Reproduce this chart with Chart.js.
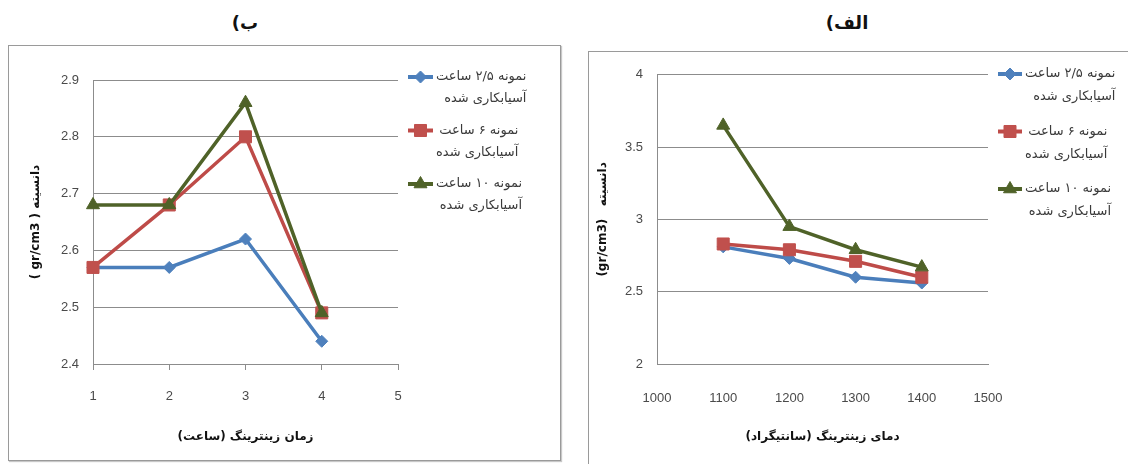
<!DOCTYPE html>
<html>
<head>
<meta charset="utf-8">
<script src="https://cdn.jsdelivr.net/npm/chart.js@4.4.1/dist/chart.umd.min.js"></script>
<style>
  html, body { margin: 0; padding: 0; background: #fff; width: 1128px; height: 464px; overflow: hidden; }
  .panel { position: absolute; border: 1px solid #9a9a9a; box-shadow: 1px 1px 1px #c8c8c8; background: #fff; }
  canvas { position: absolute; direction: rtl; }
  .cap { position: absolute; font: bold 18px "DejaVu Sans", sans-serif; color: #111; direction: rtl;
         transform: translate(-50%, -50%); white-space: nowrap; }
</style>
</head>
<body>
<div class="panel" style="left:8px;top:45px;width:551px;height:414px"></div>
<div class="panel" style="left:588px;top:51px;width:600px;height:500px"></div>
<div class="cap" dir="rtl" style="left:245px;top:22px">ب)</div>
<div class="cap" dir="rtl" style="left:847px;top:22px">الف)</div>
<canvas id="timeChart" width="549" height="412" style="left:10px;top:47px"></canvas>
<canvas id="tempChart" width="538" height="411" style="left:590px;top:53px"></canvas>

<script>
// Series names (first legend line) and the shared second line
const seriesNames = ['نمونه ۲/۵ ساعت', 'نمونه ۶ ساعت', 'نمونه ۱۰ ساعت'];
const seriesNote = 'آسیابکاری شده';

// (ب) density vs. sintering time
const timeHours = [1, 2, 3, 4];
const timeDensity25 = [2.57, 2.57, 2.62, 2.44];
const timeDensity6  = [2.57, 2.68, 2.80, 2.49];
const timeDensity10 = [2.68, 2.68, 2.86, 2.49];
const timeXTicks = [1, 2, 3, 4, 5];
const timeYTicks = [2.4, 2.5, 2.6, 2.7, 2.8, 2.9];
const timeXTitle = 'زمان زینترینگ (ساعت)';
const timeYTitle = 'دانسیته ( gr/cm3 )';

// (الف) density vs. sintering temperature
const tempCelsius = [1100, 1200, 1300, 1400];
const tempDensity25 = [2.81, 2.73, 2.60, 2.56];
const tempDensity6  = [2.83, 2.79, 2.71, 2.60];
const tempDensity10 = [3.65, 2.95, 2.79, 2.67];
const tempXTicks = [1000, 1100, 1200, 1300, 1400, 1500];
const tempYTicks = [2, 2.5, 3, 3.5, 4];
const tempXTitle = 'دمای زینترینگ (سانتیگراد)';
const tempYTitle = 'دانسیته   (gr/cm3)';

const seriesStyle = [
  { line: '#4a7ebb', fill: '#4f81bd', shape: 'rectRot',  radius: 6,   order: 2 },
  { line: '#be4b48', fill: '#c0504d', shape: 'rect',     radius: 8.5, order: 1 },
  { line: '#4f6228', fill: '#4f6228', shape: 'triangle', radius: 7.5, order: 0 }
];

const gridColor = '#8c8c8c';
const tickFont = { family: '"Liberation Sans", Arial, sans-serif', size: 13 };
const titleFont = { family: '"DejaVu Sans", sans-serif', size: 12, weight: 'bold' };

// Legend drawn beside the plot: line sample with marker, two right-aligned text lines
const sideLegend = {
  id: 'sideLegend',
  afterDraw(chart, args, opts) {
    const ctx = chart.ctx;
    ctx.save();
    ctx.font = opts.font;
    ctx.textBaseline = 'middle';
    ctx.direction = 'rtl';
    ctx.textAlign = 'right';
    chart.data.datasets.forEach((ds, i) => {
      const y = opts.top + i * opts.spacing;
      const lines = [ds.label, seriesNote];
      const w = Math.max(...lines.map(t => ctx.measureText(t).width));
      ctx.strokeStyle = ds.borderColor;
      ctx.lineWidth = 4;
      ctx.beginPath();
      ctx.moveTo(opts.left, y);
      ctx.lineTo(opts.left + opts.sample, y);
      ctx.stroke();
      ctx.fillStyle = ds.pointBackgroundColor;
      ctx.strokeStyle = ds.pointBorderColor;
      ctx.lineWidth = 1;
      Chart.helpers.drawPoint(ctx, { pointStyle: ds.pointStyle, radius: ds.pointRadius, borderWidth: 1, rotation: 0 },
        opts.left + opts.sample / 2, y);
      ctx.fillStyle = opts.color;
      const rx = opts.left + opts.sample + opts.gap + w;
      lines.forEach((t, k) => ctx.fillText(t, rx, y + k * opts.lineGap));
    });
    ctx.restore();
  }
};

function makeDatasets(xs, seriesValues) {
  return seriesValues.map((vals, i) => {
    const s = seriesStyle[i];
    return {
      label: seriesNames[i],
      data: xs.map((x, j) => ({ x: x, y: vals[j] })),
      borderColor: s.line,
      borderWidth: 3.5,
      pointStyle: s.shape,
      pointRadius: s.radius,
      pointHoverRadius: s.radius,
      pointBackgroundColor: s.fill,
      pointBorderColor: s.fill,
      pointBorderWidth: 1,
      tension: 0,
      clip: false,
      order: s.order
    };
  });
}

function makeChart(id, xs, seriesValues, xTicks, yTicks, xTitle, yTitle, L) {
  return new Chart(document.getElementById(id), {
    type: 'line',
    data: { datasets: makeDatasets(xs, seriesValues) },
    options: {
      responsive: false,
      animation: false,
      events: [],
      layout: { padding: L.padding },
      plugins: {
        legend: { display: false },
        tooltip: { enabled: false },
        sideLegend: L.legend
      },
      scales: {
        x: {
          type: 'linear',
          min: xTicks[0],
          max: xTicks[xTicks.length - 1],
          afterBuildTicks: s => { s.ticks = xTicks.map(v => ({ value: v })); },
          afterFit: s => { s.height = L.xHeight; },
          ticks: { font: tickFont, color: '#4a4a4a', padding: L.xTickPad, callback: v => String(v), maxRotation: 0 },
          grid: { display: L.xTickMarks, drawOnChartArea: false, drawTicks: true, tickLength: 6, color: gridColor },
          border: { display: true, color: gridColor, width: 1 },
          title: { display: true, text: xTitle, font: titleFont, color: '#111', padding: { top: 0, bottom: L.xTitlePad } }
        },
        y: {
          type: 'linear',
          min: yTicks[0],
          max: yTicks[yTicks.length - 1],
          afterBuildTicks: s => { s.ticks = yTicks.map(v => ({ value: v })); },
          afterFit: s => { s.width = L.yWidth; },
          ticks: { font: tickFont, color: '#4a4a4a', padding: L.yTickPad, callback: v => String(v) },
          grid: { color: gridColor, lineWidth: 1, drawTicks: false },
          border: { display: true, color: gridColor, width: 1 },
          title: { display: true, text: yTitle, font: titleFont, color: '#111', padding: { top: L.yTitlePad, bottom: 0 } }
        }
      }
    },
    plugins: [sideLegend]
  });
}

makeChart('timeChart', timeHours, [timeDensity25, timeDensity6, timeDensity10],
  timeXTicks, timeYTicks, timeXTitle, timeYTitle, {
    padding: { left: 0, right: 161, top: 33, bottom: 0 },
    yWidth: 83, xHeight: 95,
    yTitlePad: 18.8, xTitlePad: 14.8,
    yTickPad: 14, xTickPad: 19, xTickMarks: true,
    legend: { left: 398, top: 30, spacing: 53.5, lineGap: 22, sample: 25, gap: 3,
              font: '13px "DejaVu Sans", sans-serif', color: '#3a3a3a' }
  });

makeChart('tempChart', tempCelsius, [tempDensity25, tempDensity6, tempDensity10],
  tempXTicks, tempYTicks, tempXTitle, tempYTitle, {
    padding: { left: 0, right: 140, top: 18, bottom: 0 },
    yWidth: 67, xHeight: 100,
    yTitlePad: 5.8, xTitlePad: 19.8,
    yTickPad: 14, xTickPad: 21, xTickMarks: false,
    legend: { left: 408, top: 21, spacing: 57.5, lineGap: 23, sample: 24, gap: 3,
              font: '13px "DejaVu Sans", sans-serif', color: '#3a3a3a' }
  });
</script>
</body>
</html>
